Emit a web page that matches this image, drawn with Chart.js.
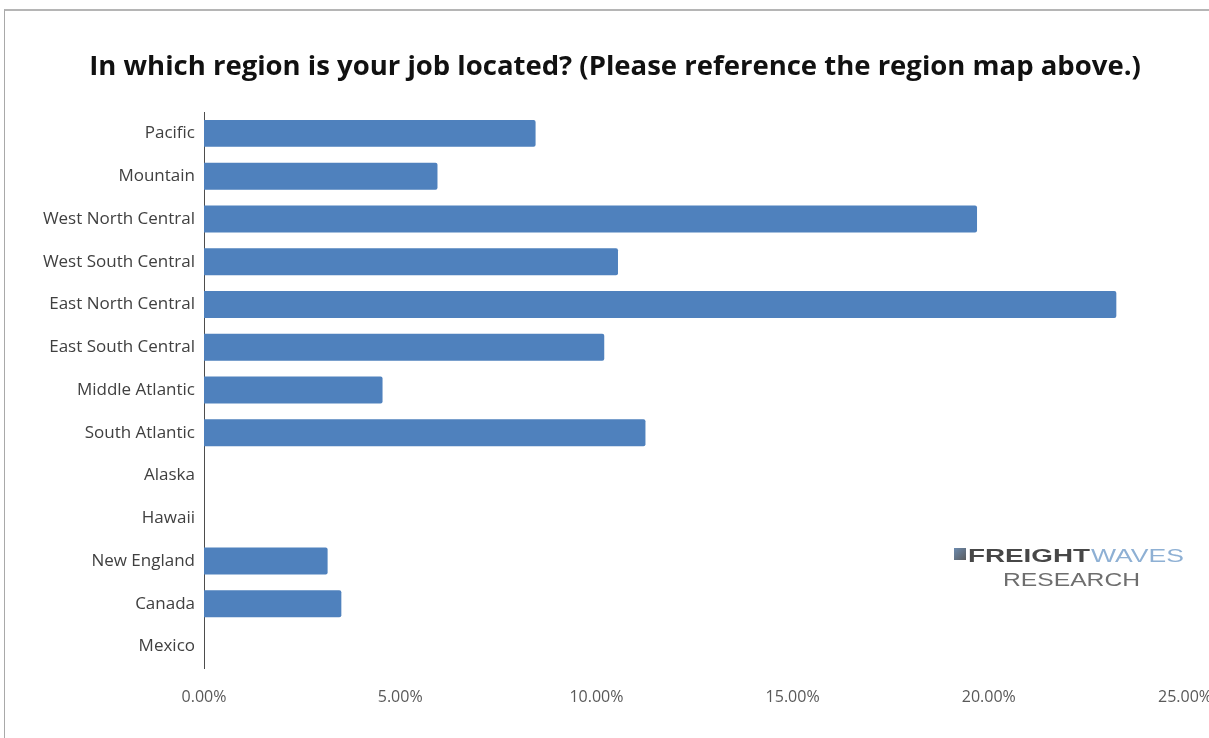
<!DOCTYPE html>
<html>
<head>
<meta charset="utf-8">
<title>Job region</title>
<script src="https://cdn.jsdelivr.net/npm/chart.js@4.4.1/dist/chart.umd.min.js"></script>
<style>
    html, body { margin: 0; padding: 0; background: #fff; overflow: hidden; }
    #frame {
        position: absolute; left: 4px; top: 9px;
        width: 1300px; height: 800px;
        border: 1px solid #a9a9a9;
        border-top: 2px solid #b5b5b5;
    }
    #regionChart { position: absolute; left: 0; top: 0; }
</style>
</head>
<body>
<div id="frame"></div>
<canvas id="regionChart" width="1230" height="738"></canvas>
<script>
const regions = ['Pacific', 'Mountain', 'West North Central', 'West South Central',
    'East North Central', 'East South Central', 'Middle Atlantic', 'South Atlantic',
    'Alaska', 'Hawaii', 'New England', 'Canada', 'Mexico'];
const shares = [8.45, 5.95, 19.7, 10.55, 23.25, 10.2, 4.55, 11.25, 0, 0, 3.15, 3.5, 0];
const xTicks = [0, 5, 10, 15, 20, 25];

// FreightWaves Research mark in the lower right
const logoPlugin = {
    id: 'logo',
    afterDraw(chart) {
        const c = chart.ctx;
        c.save();
        c.filter = 'blur(0.5px)';
        // little square icon
        const g = c.createLinearGradient(954, 547, 967, 560);
        g.addColorStop(0, '#6d8db3');
        g.addColorStop(1, '#5a5a5a');
        c.fillStyle = g;
        c.fillRect(954, 548, 12, 12);

        c.textBaseline = 'alphabetic';
        c.font = '900 18px "Liberation Sans", Arial, sans-serif';
        let w = c.measureText('FREIGHT').width;
        c.save();
        c.translate(968, 562);
        c.scale(122 / w, 1);
        c.fillStyle = '#474747';
        c.fillText('FREIGHT', 0, 0);
        c.restore();

        c.font = '300 18px "Liberation Sans", Arial, sans-serif';
        w = c.measureText('WAVES').width;
        c.save();
        c.translate(1091, 562);
        c.scale(93 / w, 1);
        c.fillStyle = '#8eb0d4';
        c.fillText('WAVES', 0, 0);
        c.restore();

        c.font = '300 18px "Liberation Sans", Arial, sans-serif';
        w = c.measureText('RESEARCH').width;
        c.save();
        c.translate(1003, 586);
        c.scale(137 / w, 1);
        c.fillStyle = '#6e6e6e';
        c.fillText('RESEARCH', 0, 0);
        c.restore();
        c.restore();
    }
};

new Chart(document.getElementById('regionChart'), {
    type: 'bar',
    data: {
        labels: regions,
        datasets: [{
            data: shares,
            backgroundColor: '#4f81bd',
            borderRadius: 2,
            borderSkipped: 'start',
            barPercentage: 0.9,
            categoryPercentage: 0.7
        }]
    },
    options: {
        indexAxis: 'y',
        responsive: false,
        animation: false,
        layout: { padding: 0 },
        plugins: {
            legend: { display: false },
            tooltip: { enabled: false },
            title: {
                display: true,
                text: 'In which region is your job located? (Please reference the region map above.)',
                color: '#111',
                font: { family: '"Open Sans", sans-serif', size: 27.5, weight: 'bold', lineHeight: 1.2 },
                padding: { top: 51, bottom: 28 }
            }
        },
        scales: {
            x: {
                min: 0,
                max: 25,
                afterBuildTicks(scale) {
                    scale.ticks = xTicks.map(v => ({ value: v }));
                },
                afterFit(scale) {
                    scale.height = 70;
                    scale.paddingRight = 1230 - 1185;
                },
                grid: { display: false, drawTicks: false },
                border: { display: false },
                ticks: {
                    padding: 20,
                    color: '#595959',
                    font: { family: '"Open Sans", sans-serif', size: 16 },
                    callback: v => v.toFixed(2) + '%'
                }
            },
            y: {
                afterFit(scale) {
                    scale.width = 204;
                },
                grid: { display: false, drawTicks: false },
                border: { display: true, color: '#4d4d4d', width: 1 },
                ticks: {
                    padding: 9,
                    color: '#404040',
                    font: { family: '"Open Sans", sans-serif', size: 17 }
                }
            }
        }
    },
    plugins: [logoPlugin]
});
</script>
</body>
</html>
